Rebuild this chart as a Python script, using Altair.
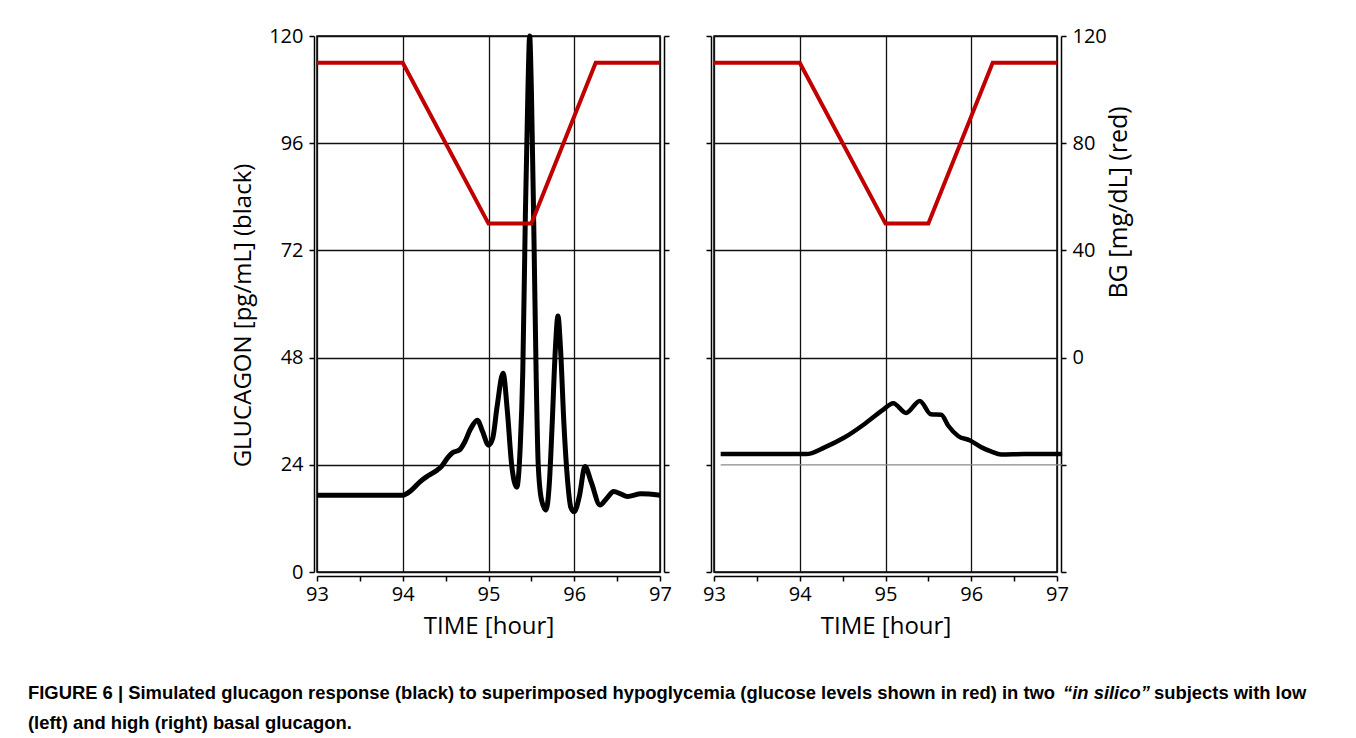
import altair as alt
import pandas as pd

# ---- data ----
time_low = [93.0, 93.5, 94.0, 94.1, 94.2, 94.3, 94.4, 94.45, 94.52, 94.58, 94.66, 94.72,
            94.79, 94.87, 94.93, 95.0, 95.05, 95.1, 95.17, 95.22, 95.27, 95.33, 95.37,
            95.40, 95.43, 95.46, 95.48, 95.50, 95.53, 95.555, 95.58, 95.62, 95.67, 95.71,
            95.74, 95.78, 95.81, 95.84, 95.88, 95.92, 95.96, 96.0, 96.06, 96.125, 96.2,
            96.30, 96.38, 96.46, 96.54, 96.62, 96.78, 97.0]
gluc_low = [17.2, 17.2, 17.2, 18.3, 20.2, 21.6, 22.8, 23.6, 25.5, 26.7, 27.3, 29.0,
            32.0, 34.0, 31.5, 28.4, 30.0, 37.0, 44.5, 36.0, 24.0, 19.0, 28.0,
            45.0, 80.0, 108.0, 120.0, 108.0, 75.0, 45.0, 24.0, 16.0, 13.9, 20.0,
            32.0, 50.0, 57.3, 50.0, 33.0, 21.0, 14.5, 13.5, 17.0, 23.6, 20.0,
            15.0, 16.5, 18.0, 17.5, 16.9, 17.5, 17.2]

time_high = [93.078, 93.5, 94.077, 94.29, 94.52, 94.76, 94.97, 95.09, 95.24, 95.40,
             95.53, 95.65, 95.73, 95.85, 95.98, 96.12, 96.23, 96.35, 96.62, 97.06]
gluc_high = [26.4, 26.4, 26.4, 27.9, 30.1, 33.2, 36.3, 37.8, 35.6, 38.3,
             35.3, 35.2, 32.8, 30.4, 29.5, 27.9, 27.0, 26.3, 26.4, 26.4]

bg_time = [93.0, 94.0, 95.0, 95.5, 96.25, 97.0]
bg_value = [110, 110, 50, 50, 110, 110]

ref_start = [93.078]
ref_end = [97.06]
ref_level = [24]

x_ticks = [93, 93.5, 94, 94.5, 95, 95.5, 96, 96.5, 97]
g_ticks = [0, 24, 48, 72, 96, 120]
bg_ticks = [-80, -40, 0, 40, 80, 120]

caption_a = ("FIGURE 6 | Simulated glucagon response (black) to superimposed hypoglycemia "
             "(glucose levels shown in red) in two")
caption_b = "\u201cin silico\u201d"
caption_c = "subjects with low"
caption_d = "(left) and high (right) basal glucagon."

df_low = pd.DataFrame({"t": time_low, "g": gluc_low})
df_high = pd.DataFrame({"t": time_high, "g": gluc_high})
df_bg = pd.DataFrame({"t": bg_time, "bg": bg_value})
df_ref = pd.DataFrame({"t0": ref_start, "t1": ref_end, "g": ref_level})

W, H = 343, 536
RED = "#c00000"

x_scale = alt.Scale(domain=[93, 97], nice=False, zero=False)
g_scale = alt.Scale(domain=[0, 120], nice=False)
bg_scale = alt.Scale(domain=[-80, 120], nice=False)

x_grid_cond = {"condition": {"test": "datum.value % 1 === 0", "value": 1}, "value": 0}


def x_enc():
    return alt.X("t:Q", scale=x_scale,
                 axis=alt.Axis(values=x_ticks, title="TIME [hour]",
                               labelExpr="datum.value % 1 === 0 ? format(datum.value, 'd') : ''",
                               grid=True, gridOpacity=x_grid_cond, offset=4, tickSize=5,
                               labelFlush=False, labelPadding=3, titlePadding=10))


# ---- left panel ----
black_low = alt.Chart(df_low).mark_line(color="black", strokeWidth=5, interpolate="monotone").encode(
    x=x_enc(),
    y=alt.Y("g:Q", scale=g_scale,
            axis=alt.Axis(orient="left", values=g_ticks, title="GLUCAGON [pg/mL] (black)",
                          grid=True, offset=3, tickSize=5, labelPadding=6, titlePadding=13,
                          labelFlush=False, titleY=279)),
)


def cap(text, xpos, ypos, italic=False):
    return alt.Chart(pd.DataFrame({"s": [text]})).mark_text(
        font="Liberation Sans", fontSize=18.4, fontWeight="bold",
        fontStyle="italic" if italic else "normal",
        align="left", baseline="alphabetic", color="black",
    ).encode(x=alt.value(xpos), y=alt.value(ypos), text="s:N")


captions = [
    cap(caption_a, -289, 663),
    cap(caption_b, 746, 663, italic=True),
    cap(caption_c, 837, 663),
    cap(caption_d, -289, 693),
]

red_low = alt.Chart(df_bg).mark_line(color=RED, strokeWidth=4).encode(
    x=alt.X("t:Q", scale=x_scale),
    y=alt.Y("bg:Q", scale=bg_scale,
            axis=alt.Axis(orient="right", values=bg_ticks, labels=False, title=None,
                          grid=False, offset=4, tickSize=5)),
)

left = alt.layer(alt.layer(black_low, *captions), red_low).resolve_scale(
    y="independent").properties(width=W, height=H)

# ---- right panel ----
black_high = alt.Chart(df_high).mark_line(color="black", strokeWidth=4.5, interpolate="monotone").encode(
    x=x_enc(),
    y=alt.Y("g:Q", scale=g_scale,
            axis=alt.Axis(orient="left", values=g_ticks, labels=False, title=None,
                          grid=True,
                          gridOpacity={"condition": {"test": "datum.value === 24", "value": 0},
                                       "value": 1},
                          offset=3, tickSize=5)),
)

ref_line = alt.Chart(df_ref).mark_rule(color="#8a8a8a", strokeWidth=1.3).encode(
    x=alt.X("t0:Q", scale=x_scale), x2="t1:Q", y=alt.Y("g:Q", scale=g_scale))

red_high = alt.Chart(df_bg).mark_line(color=RED, strokeWidth=4).encode(
    x=alt.X("t:Q", scale=x_scale),
    y=alt.Y("bg:Q", scale=bg_scale,
            axis=alt.Axis(orient="right", values=bg_ticks, title="BG [mg/dL] (red)",
                          labelExpr="datum.value >= 0 ? datum.label : ''",
                          grid=False, offset=4, tickSize=5, labelPadding=6, labelFlush=False,
                          titleAngle=270, titleX=57, titleY=166, titleBaseline="middle",
                          titleAlign="center", titleFontSize=25)),
)

right = alt.layer(alt.layer(ref_line, black_high), red_high).resolve_scale(
    y="independent").properties(width=W, height=H)

chart = alt.hconcat(left, right, spacing=54, bounds="flush").properties(
    padding={"left": 19, "top": 17, "right": 5, "bottom": 5}
).configure_view(
    stroke="black", strokeWidth=1.5
).configure_axis(
    domainColor="black", domainWidth=1.5, tickColor="black", tickWidth=1.5,
    gridColor="#111111", gridWidth=1.3,
    labelFont="Open Sans", labelFontSize=20, labelColor="black",
    titleFont="Open Sans", titleFontSize=24, titleFontWeight="normal", titleColor="black",
)

chart.save("out.html", embed_options={"renderer": "svg", "actions": False})
